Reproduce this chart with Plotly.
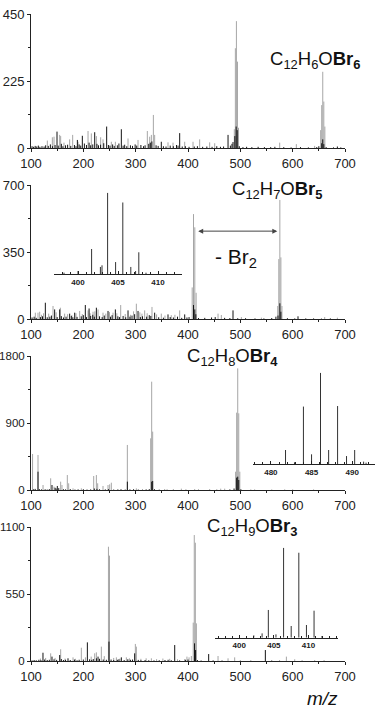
import plotly.graph_objects as go

# ---- panel 1: C12H6OBr6 ----
P1_GRAY_MZ = [131.2, 140.8, 144.0, 154.8, 156.7, 163.0, 173.9, 179.6, 189.8, 209.0, 215.3, 224.9, 233.1, 237.6,
              253.5, 261.2, 285.4, 304.5, 322.3, 326.8, 330.0, 333.8, 336.3, 361.8, 371.4, 393.7, 409.6, 422.3,
              441.4, 451.0, 488.5, 490.5, 492.5, 494.5, 496.5, 575.2, 607.0, 642.0, 653.5, 655.5, 657.5, 659.5, 661.5]
P1_GRAY_I = [25, 36, 38, 44, 40, 18, 29, 44, 21, 57, 49, 40, 36, 29,
             21, 21, 32, 27, 57, 38, 44, 111, 44, 19, 18, 21, 21, 29,
             19, 16, 63, 335, 426, 290, 68, 18, 13, 7, 60, 144, 256, 156, 72]
P1_BLACK_MZ = [149.7, 188.6, 198.1, 221.7, 244.6, 272.6, 349.0, 384.1, 476.5, 489.5, 492.0, 494.0, 655.5, 657.5, 659.5, 685.4,
               102, 105, 108, 111, 114, 117, 121, 125, 128, 133, 137, 141, 146, 152, 158, 161, 166, 170, 176, 183, 186,
               192, 195, 202, 206, 211, 214, 218, 226, 229, 233, 239, 248, 251, 256, 259, 265, 268, 276, 279, 283, 290,
               294, 299, 302, 310, 315, 318, 325, 328, 331, 339, 343, 353, 358, 366, 372, 378, 381, 389, 395, 402, 412,
               418, 428, 436, 446, 455, 462, 468, 481, 484, 486, 498, 505, 512, 522, 534, 546, 558, 566, 583, 597, 615,
               630, 646, 650, 664, 678, 692]
P1_BLACK_I = [55, 27, 41, 53, 72, 63, 21, 50, 44, 40, 72, 60, 16, 29, 13, 5,
              6, 4, 7, 5, 8, 4, 6, 5, 9, 7, 12, 6, 10, 8, 14, 6, 9, 11, 7, 10, 6,
              12, 8, 15, 10, 18, 9, 12, 14, 9, 11, 16, 10, 8, 12, 7, 9, 15, 8, 11, 6, 9,
              7, 12, 8, 10, 6, 9, 14, 18, 22, 9, 7, 6, 5, 8, 6, 10, 8, 5, 6, 4, 5,
              6, 4, 5, 4, 6, 4, 5, 8, 14, 20, 6, 3, 4, 3, 4, 3, 3, 4, 3, 2, 3,
              2, 3, 6, 3, 2, 2]

# ---- panel 2: C12H7OBr5 ----
P2_GRAY_MZ = [108.3, 113.4, 116.6, 120, 124, 133.8, 142.1, 148, 156.1, 164.3, 170, 178, 186, 193, 198, 209, 213,
              218.5, 222, 228.1, 237.6, 243, 250, 256.7, 264, 271.4, 280, 290, 296, 301.3, 308, 312, 317.2, 322,
              331.2, 340, 349, 356, 368, 375, 384.1, 408, 410.5, 413, 415.5, 457.4, 463.7, 502, 540.2,
              571.5, 573.5, 575.5, 577.5, 579.5, 661.2, 685.4]
P2_GRAY_I = [33, 33, 38, 22, 30, 28, 68, 35, 59, 28, 25, 20, 30, 42, 26, 45, 30,
             38, 40, 50, 33, 28, 36, 33, 30, 73, 26, 22, 40, 80, 35, 28, 45, 30,
             63, 24, 28, 18, 20, 22, 45, 165, 548, 479, 137, 28, 21, 10, 7,
             68, 313, 622, 322, 68, 10, 7]
P2_BLACK_MZ = [127.4, 145.2, 154.8, 173.9, 183.5, 203.8, 211, 224.9, 247.2, 261.2, 285.4, 304.5, 336.3, 361.8, 393.7,
               410.5, 413, 415, 486, 575.5, 577.5, 610.2,
               102, 106, 110, 118, 122, 131, 136, 139, 150, 158, 162, 167, 177, 180, 188, 196, 200, 206, 214, 218,
               221, 231, 236, 240, 252, 255, 266, 269, 276, 281, 289, 293, 298, 309, 313, 321, 326, 329, 344, 353,
               366, 372, 380, 388, 398, 402, 420, 432, 445, 452, 470, 480, 495, 510, 528, 545, 560, 568, 572, 590,
               604, 625, 640, 655, 672]
P2_BLACK_I = [85, 50, 50, 28, 33, 73, 55, 59, 42, 50, 45, 42, 33, 24, 24,
              73, 50, 25, 45, 82, 38, 14,
              8, 12, 6, 10, 14, 9, 12, 18, 10, 15, 8, 12, 16, 9, 11, 14, 20, 10, 16, 22,
              12, 14, 10, 18, 12, 20, 14, 10, 16, 9, 12, 18, 25, 10, 14, 12, 20, 16, 9, 7,
              10, 8, 12, 6, 8, 10, 5, 6, 8, 10, 6, 5, 4, 4, 3, 3, 5, 12, 18, 4,
              3, 3, 3, 2, 3]

# ---- panel 3: C12H8OBr4 ----
P3_GRAY_MZ = [103.0, 113.4, 123.0, 137.6, 144.0, 156.7, 159.2, 169.4, 172.0, 180.3, 196.2, 219.8, 224.9, 227.4,
              237.6, 247.2, 250.3, 253.5, 284.1, 301.3, 328.7, 330.6, 332.5, 355.4, 387.3, 412.8, 441.4, 462.5,
              470.1, 491, 493, 495, 497, 499, 527.4, 584.8]
P3_GRAY_I = [484, 470, 67, 157, 45, 112, 67, 201, 90, 22, 22, 188, 201, 90,
             54, 67, 76, 98, 605, 22, 694, 1455, 784, 13, 18, 13, 13, 18,
             18, 246, 1039, 1634, 1030, 246, 9, 9]
P3_BLACK_MZ = [113.4, 140.1, 150.3, 284.1, 330.6, 332.5, 493, 495, 497,
               105, 108, 116, 120, 127, 131, 135, 146, 148, 153, 162, 166, 175, 184, 190, 200, 207, 214, 221, 226,
               231, 242, 248, 258, 266, 272, 280, 289, 296, 305, 313, 320, 326, 336, 345, 360, 372, 396, 420, 455,
               480, 488, 501, 520, 560, 600, 640]
P3_BLACK_I = [246, 67, 54, 112, 112, 121, 166, 179, 134,
              10, 15, 12, 8, 10, 6, 12, 30, 20, 25, 10, 8, 12, 6, 8, 10, 6, 8, 20, 15,
              10, 8, 12, 6, 8, 10, 6, 8, 10, 6, 5, 8, 12, 10, 5, 4, 5, 4, 4, 4,
              8, 20, 10, 3, 3, 3, 3]

# ---- panel 4: C12H9OBr3 ----
P4_GRAY_MZ = [118, 128, 137.6, 146, 156.7, 165, 180.3, 185, 196.2, 204, 215, 221.7, 224.9, 234.4, 240, 248, 250,
              258, 263.1, 270, 282.2, 288, 299.4, 301.3, 310, 320, 330, 340, 352, 365, 380, 393.7, 398, 402,
              406.4, 410, 412, 414, 416, 457.4, 476.5, 489.2, 588, 603.9, 642.1]
P4_GRAY_I = [20, 25, 63, 25, 96, 20, 30, 18, 109, 30, 36, 63, 71, 118, 40, 938, 865,
             25, 30, 20, 30, 22, 140, 118, 18, 22, 22, 15, 20, 18, 14, 15, 36, 30,
             41, 315, 1034, 971, 309, 41, 22, 30, 36, 14, 8]
P4_BLACK_MZ = [122.9, 140.1, 154.8, 170.7, 207.7, 228.1, 249, 272.6, 298.1, 374.6, 412.5, 414.5, 439.5, 547.8,
               102, 106, 110, 115, 119, 126, 131, 135, 144, 149, 158, 162, 166, 175, 183, 188, 192, 200, 212, 216,
               219, 225, 231, 238, 244, 253, 258, 265, 268, 278, 285, 290, 294, 305, 310, 318, 325, 335, 345, 356,
               362, 368, 384, 395, 400, 418, 425, 448, 465, 500, 520, 560, 575, 618, 660]
P4_BLACK_I = [68, 36, 49, 22, 153, 36, 159, 30, 63, 131, 145, 90, 57, 90,
              5, 8, 6, 10, 7, 12, 8, 10, 14, 9, 16, 8, 10, 8, 12, 6, 10, 12, 14, 9,
              16, 22, 18, 12, 10, 12, 8, 10, 14, 8, 14, 10, 12, 9, 6, 8, 6, 5, 6, 8,
              10, 6, 5, 10, 12, 8, 4, 5, 4, 3, 3, 4, 3, 3, 3]

Y_MAX = [450, 700, 1800, 1100]
FORMULAS = ["C<sub>12</sub>H<sub>6</sub>O<b>Br<sub>6</sub></b>",
            "C<sub>12</sub>H<sub>7</sub>O<b>Br<sub>5</sub></b>",
            "C<sub>12</sub>H<sub>8</sub>O<b>Br<sub>4</sub></b>",
            "C<sub>12</sub>H<sub>9</sub>O<b>Br<sub>3</sub></b>"]

# ---- insets (relative intensity, %) ----
IN2_MZ = [398.25, 400.0, 401.7, 402.8, 403.0, 403.7, 404.7, 405.6, 406.6, 407.2, 407.6, 408.5]
IN2_I = [2, 4, 31, 9, 11, 100, 15, 88, 9, 4, 27, 2]
IN3_MZ = [481.8, 482.9, 484.0, 485.0, 486.1, 487.1, 488.2, 489.3, 490.3, 491.4, 491.7]
IN3_I = [15.6, 2.2, 63, 10.9, 100, 15.6, 63.6, 9, 15.6, 2.9, 1.8]
IN4_MZ = [402.1, 403.3, 404.2, 405.3, 406.4, 407.5, 408.6, 409.7, 410.8, 411.9]
IN4_I = [2.6, 4.8, 30.8, 3.7, 100, 13, 94.4, 14.1, 30, 1.5]

GRAY = "#a6a6a6"
BLACK = "#141414"
INK = "#222222"
FONT = "Liberation Sans, Arial, sans-serif"

W, H = 380, 709


def sticks(mz, inten):
    xs, ys = [], []
    for m, v in zip(mz, inten):
        xs += [m, m, None]
        ys += [0, v, None]
    return xs, ys


def py(px):
    return 1 - px / H


fig = go.Figure()

panels = [(P1_GRAY_MZ, P1_GRAY_I, P1_BLACK_MZ, P1_BLACK_I),
          (P2_GRAY_MZ, P2_GRAY_I, P2_BLACK_MZ, P2_BLACK_I),
          (P3_GRAY_MZ, P3_GRAY_I, P3_BLACK_MZ, P3_BLACK_I),
          (P4_GRAY_MZ, P4_GRAY_I, P4_BLACK_MZ, P4_BLACK_I)]
# pixel rows of each panel: (top of y axis, zero line)
rows = [(14, 148), (185, 319), (356, 490), (527, 661)]
ytick_size = [13, 13, 11.5, 11.5]

for i, (gm, gi, bm, bi) in enumerate(panels, start=1):
    sx = "" if i == 1 else str(i)
    for mz, inten, col in ((gm, gi, GRAY), (bm, bi, BLACK)):
        x, y = sticks(mz, inten)
        fig.add_trace(go.Scatter(x=x, y=y, mode="lines", line=dict(color=col, width=1),
                                 xaxis="x" + sx, yaxis="y" + sx, hoverinfo="skip"))
    top, zero = rows[i - 1]
    ymax = Y_MAX[i - 1]
    fig.layout["xaxis" + sx] = dict(
        domain=[31 / W, 345 / W], anchor="y" + sx, range=[100, 700], dtick=100, automargin=False,
        showline=True, linecolor=INK, linewidth=1, ticks="outside", ticklen=3, tickcolor=INK,
        minor=dict(dtick=50, ticks="outside", ticklen=2, tickcolor=INK),
        showgrid=False, zeroline=False, tickfont=dict(family=FONT, size=13, color=INK))
    fig.layout["yaxis" + sx] = dict(
        domain=[py(zero), py(top)], anchor="x" + sx, range=[0, ymax], dtick=ymax / 2, automargin=False,
        showline=True, linecolor=INK, linewidth=1, ticks="outside", ticklen=3, tickcolor=INK,
        minor=dict(dtick=ymax / 4, ticks="outside", ticklen=2, tickcolor=INK),
        showgrid=False, zeroline=False, tickfont=dict(family=FONT, size=ytick_size[i - 1], color=INK))

# insets: (mz, intensities, x range, pixel x span, pixel baseline, pixel top)
insets = [(IN2_MZ, IN2_I, [397, 413], (54, 182), 274.3, 192.7),
          (IN3_MZ, IN3_I, [477.8, 492.8], (253, 375), 464.3, 372.7),
          (IN4_MZ, IN4_I, [396.5, 414.3], (215, 338.3), 637.7, 547.7)]
for k, (mz, inten, xr, (x0, x1), base, tp) in enumerate(insets, start=5):
    x, y = sticks(mz, inten)
    fig.add_trace(go.Scatter(x=x, y=y, mode="lines", line=dict(color="#333333", width=1),
                             xaxis=f"x{k}", yaxis=f"y{k}", hoverinfo="skip"))
    fig.layout[f"xaxis{k}"] = dict(
        domain=[x0 / W, x1 / W], anchor=f"y{k}", range=xr, dtick=5, automargin=False,
        showline=True, linecolor=INK, linewidth=1, ticks="inside", ticklen=3, tickcolor=INK,
        minor=dict(dtick=1, ticks="inside", ticklen=2, tickcolor=INK),
        showgrid=False, zeroline=False,
        tickfont=dict(family=FONT, size=8, color=INK, weight="bold"))
    fig.layout[f"yaxis{k}"] = dict(domain=[py(base), py(tp)], anchor=f"x{k}", range=[0, 100],
                                   visible=False, automargin=False)

annos = []
label_pos = [(268, 60), (230, 190), (185, 357), (205, 527)]
for (lx, ly), txt in zip(label_pos, FORMULAS):
    annos.append(dict(text=txt, x=lx / W, y=py(ly), xref="paper", yref="paper",
                      xanchor="left", yanchor="middle", showarrow=False,
                      font=dict(family=FONT, size=18.5, color="#111111")))

# loss of Br2 between the two clusters of panel 2
annos.append(dict(text="", x=570.7, y=459, ax=416.6, ay=459, xref="x2", yref="y2",
                  axref="x2", ayref="y2", showarrow=True, arrowhead=2, startarrowhead=2,
                  arrowside="end+start", arrowsize=1, startarrowsize=1, arrowwidth=1, arrowcolor="#444444"))
annos.append(dict(text="- Br<sub>2</sub>", x=236 / W, y=py(258), xref="paper", yref="paper",
                  xanchor="center", yanchor="middle", showarrow=False,
                  font=dict(family=FONT, size=21, color="#111111")))
annos.append(dict(text="<i>m/z</i>", x=322 / W, y=py(698), xref="paper", yref="paper",
                  xanchor="center", yanchor="middle", showarrow=False,
                  font=dict(family=FONT, size=19, color="#111111")))

fig.update_layout(width=W, height=H, margin=dict(l=0, r=0, t=0, b=0, autoexpand=False),
                  paper_bgcolor="white", plot_bgcolor="white", showlegend=False,
                  annotations=annos)

# drop the page's default body margin so the figure sits at the window's corner
fig.write_html("out.html", config={"displayModeBar": False},
               post_script="document.body.style.margin='0';")
